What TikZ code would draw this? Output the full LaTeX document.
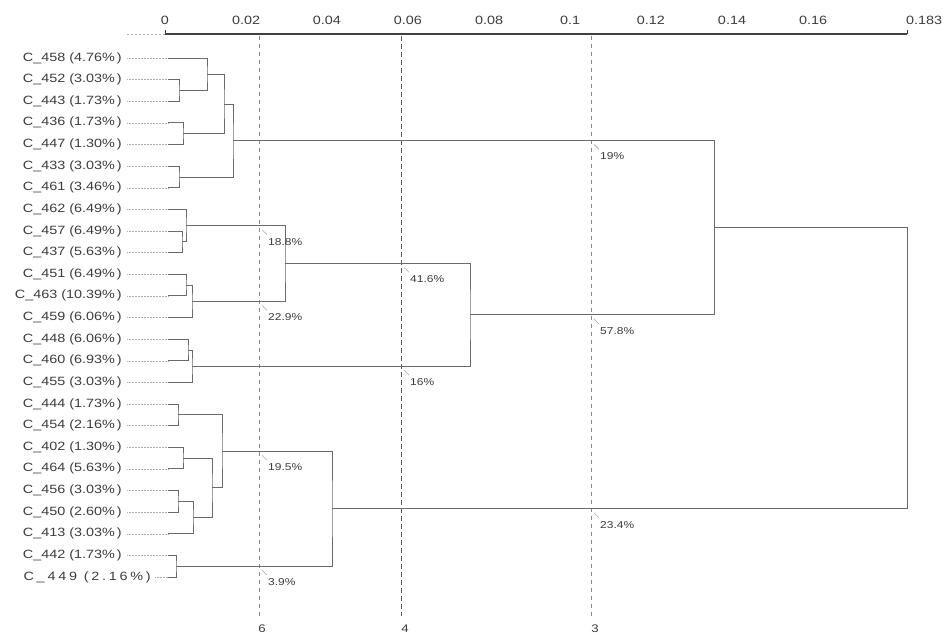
\documentclass[tikz,border=0pt]{standalone}
\usepackage{fontspec}
\setmainfont{Liberation Sans}[FakeStretch=1.2]
\usetikzlibrary{calc}
\definecolor{txt}{HTML}{3C3C3C}
\definecolor{ln}{HTML}{6A6A6A}
\definecolor{dl}{HTML}{8A8A8A}
\definecolor{dk}{HTML}{5A5A5A}
\begin{document}
\begin{tikzpicture}[x=1pt,y=-1pt,
  lab/.style={anchor=east,inner sep=0pt,text=txt,font=\fontsize{12}{14}\selectfont},
  axlab/.style={inner sep=0pt,text=txt,font=\fontsize{12}{14}\selectfont},
  pct/.style={anchor=west,inner sep=0pt,text=txt,font=\fontsize{10}{12}\selectfont},
  tree/.style={draw=ln,line width=0.9pt},
  leader/.style={draw=dl!70,line width=0.5pt,densely dotted},
  axisline/.style={draw=black!75,line width=1.2pt},
  axisext/.style={draw=dl!70,line width=0.5pt,dash pattern=on 2pt off 2pt},
  cutline/.style={draw=dl,line width=0.9pt,dash pattern=on 4pt off 4pt},
  cutdark/.style={draw=dk,line width=1pt,dash pattern=on 4.5pt off 3.5pt},
  tick/.style={draw=black!75,line width=0.8pt},
  pmark/.style={draw=dl,line width=0.4pt}]
\useasboundingbox (0,0) rectangle (952,635);

% axis
\coordinate (a00) at (127,34);
\coordinate (a0) at (165,34);
\coordinate (a1) at (907,34);
\draw[axisext] (a00) -- (a0);
\draw[axisline] (a0) -- (a1);
\foreach \v/\t in {0/0,0.02/0.02,0.04/0.04,0.06/0.06,0.08/0.08,0.1/0.1,0.12/0.12,0.14/0.14,0.16/0.16}{
  \coordinate (tk\t) at ({165+4050*\v},34);
  \draw[tick] (tk\t) -- ++(0,-4);
  \node[axlab] (tl\t) at ({165+4050*\v},20) {\t};
}
\draw[tick] (a1) -- ++(0,-4);
\node[axlab,anchor=west] (tlend) at (906,20) {0.183};

% cut lines
\coordinate (c6t) at (259,36);  \coordinate (c6b) at (259,616);
\coordinate (c4t) at (401,36);  \coordinate (c4b) at (401,616);
\coordinate (c3t) at (591,36);  \coordinate (c3b) at (591,616);
\draw[cutline] (c6t) -- (c6b);
\draw[cutdark] (c4t) -- (c4b);
\draw[cutline] (c3t) -- (c3b);
\node[axlab,font=\fontsize{11}{13}\selectfont] (n6) at (262,629) {6};
\node[axlab,font=\fontsize{11}{13}\selectfont] (n4) at (405,629) {4};
\node[axlab,font=\fontsize{11}{13}\selectfont] (n3) at (595,629) {3};

% leaves
\foreach \n/\i/\p in {458/0/4.76,452/1/3.03,443/2/1.73,436/3/1.73,447/4/1.30,433/5/3.03,461/6/3.46,462/7/6.49,457/8/6.49,437/9/5.63,451/10/6.49,463/11/10.39,459/12/6.06,448/13/6.06,460/14/6.93,455/15/3.03,444/16/1.73,454/17/2.16,402/18/1.30,464/19/5.63,456/20/3.03,450/21/2.60,413/22/3.03,442/23/1.73}{
  \node[lab] (t\n) at (122,{58+21.625*\i}) {C\_\n\ (\p\%\,)};
  \coordinate (s\n) at (168,{58+21.625*\i});
  \draw[leader] ([xshift=5pt]t\n.east) -- (s\n);
}
\node[lab] (t449) at (151,577) {\addfontfeature{LetterSpace=23}C\_449 (2.16\%)};
\coordinate (s449) at (168,577);
\draw[leader] ([xshift=4pt]t449.east) -- (s449);

% merge points
\coordinate (m1) at (179,90.5);
\coordinate (m2) at (207,74.2);
\coordinate (m3) at (183,133.7);
\coordinate (m4) at (224,104);
\coordinate (m5) at (179,177);
\coordinate (m6) at (233,140.5);
\coordinate (m7) at (182,241.8);
\coordinate (m8) at (186,225.6);
\coordinate (m9) at (186,285.1);
\coordinate (m10) at (192,301.3);
\coordinate (m11) at (285,263.4);
\coordinate (m12) at (188,350);
\coordinate (m13) at (192,366.2);
\coordinate (m14) at (470,314.8);
\coordinate (m15) at (714,227.6);
\coordinate (m16) at (178,414.8);
\coordinate (m17) at (183,458.1);
\coordinate (m18) at (178,501.3);
\coordinate (m19) at (193,517.5);
\coordinate (m20) at (212,487.8);
\coordinate (m21) at (222,451.3);
\coordinate (m22) at (176,566.2);
\coordinate (m23) at (332,508.7);
\coordinate (m24) at (907,368.2);

\draw[tree] (s452) -| (m1) |- (s443);
\draw[tree] (s458) -| (m2) |- (m1);
\draw[tree] (s436) -| (m3) |- (s447);
\draw[tree] (m2) -| (m4) |- (m3);
\draw[tree] (s433) -| (m5) |- (s461);
\draw[tree] (m4) -| (m6) |- (m5);
\draw[tree] (s457) -| (m7) |- (s437);
\draw[tree] (s462) -| (m8) |- (m7);
\draw[tree] (s451) -| (m9) |- (s463);
\draw[tree] (m9) -| (m10) |- (s459);
\draw[tree] (m8) -| (m11) |- (m10);
\draw[tree] (s448) -| (m12) |- (s460);
\draw[tree] (m12) -| (m13) |- (s455);
\draw[tree] (m11) -| (m14) |- (m13);
\draw[tree] (m6) -| (m15) |- (m14);
\draw[tree] (s444) -| (m16) |- (s454);
\draw[tree] (s402) -| (m17) |- (s464);
\draw[tree] (s456) -| (m18) |- (s450);
\draw[tree] (m18) -| (m19) |- (s413);
\draw[tree] (m17) -| (m20) |- (m19);
\draw[tree] (m16) -| (m21) |- (m20);
\draw[tree] (s442) -| (m22) |- (s449);
\draw[tree] (m21) -| (m23) |- (m22);
\draw[tree] (m15) -| (m24) |- (m23);

% percentage labels at cut intersections
\foreach \c/\x/\y/\t in {i1/591/140.5/19,i2/591/314.8/57.8,i3/591/508.7/23.4,i4/259/225.6/18.8,i5/259/301.3/22.9,i6/401/263.4/41.6,i7/401/366.2/16,i8/259/451.3/19.5,i9/259/566.2/3.9}{
  \coordinate (\c) at (\x,\y);
  \node[pct] (p\c) at (\x+9,\y+16) {\t\%};
  \draw[pmark] ([shift={(3,4)}]\c) -- ([shift={(8,9)}]\c);
}
\end{tikzpicture}
\end{document}
